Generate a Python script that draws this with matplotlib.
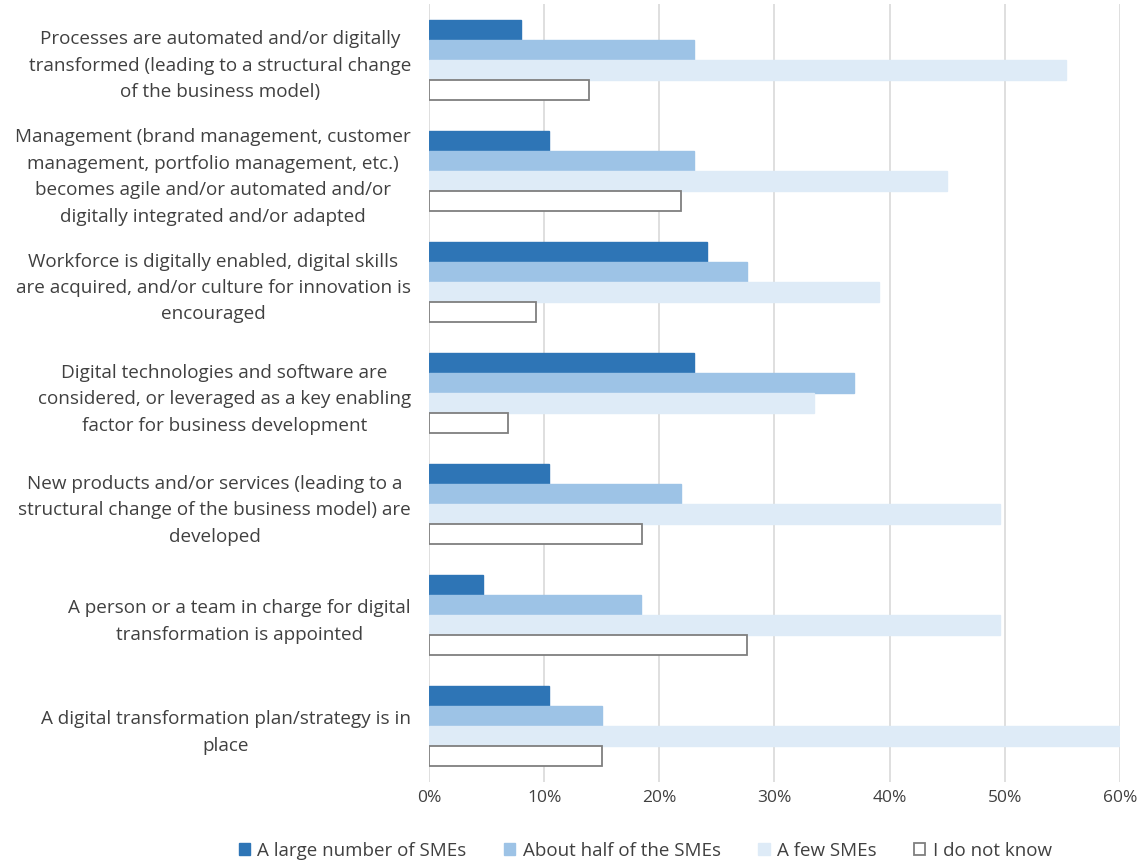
import matplotlib
matplotlib.use("Agg")
import matplotlib.pyplot as plt
import numpy as np
from matplotlib.ticker import FuncFormatter

categories = [
    "Processes are automated and/or digitally\ntransformed (leading to a structural change\nof the business model)",
    "Management (brand management, customer\nmanagement, portfolio management, etc.)\nbecomes agile and/or automated and/or\ndigitally integrated and/or adapted",
    "Workforce is digitally enabled, digital skills\nare acquired, and/or culture for innovation is\nencouraged",
    "Digital technologies and software are\nconsidered, or leveraged as a key enabling\nfactor for business development",
    "New products and/or services (leading to a\nstructural change of the business model) are\ndeveloped",
    "A person or a team in charge for digital\ntransformation is appointed",
    "A digital transformation plan/strategy is in\nplace",
]
series_names = ["A large number of SMEs", "About half of the SMEs", "A few SMEs", "I do not know"]
large = [8.0, 10.4, 24.1, 23.0, 10.4, 4.7, 10.4]
half = [23.0, 23.0, 27.6, 36.9, 21.9, 18.4, 15.0]
few = [55.3, 45.0, 39.1, 33.4, 49.6, 49.6, 60.0]
dontknow = [13.9, 21.9, 9.3, 6.9, 18.5, 27.6, 15.0]
xticks = [0, 10, 20, 30, 40, 50, 60]

plt.rcParams['font.family'] = ['Open Sans', 'DejaVu Sans']
txt = '#404040'

fig = plt.figure(figsize=(11.42, 8.64), dpi=100)
ax = fig.add_axes([429/1142, 1-782/864, (1120-429)/1142, (782-4)/864])

n = len(categories)
y = np.arange(n)
h = 0.18
styles = [
    dict(color='#2E75B6', edgecolor='#2E75B6'),
    dict(color='#9DC3E6', edgecolor='#9DC3E6'),
    dict(color='#DEEBF7', edgecolor='#DEEBF7'),
    dict(color='white', edgecolor='#7F7F7F', linewidth=1.3),
]
data = [large, half, few, dontknow]
for i, (vals, st, name) in enumerate(zip(data, styles, series_names)):
    ax.barh(y + (i - 1.5) * h, vals, height=h, label=name, zorder=3, **st)

ax.set_ylim(n - 0.5, -0.5)
ax.set_xlim(0, 60)
ax.set_xticks(xticks)
ax.xaxis.set_major_formatter(FuncFormatter(lambda v, p: f"{v:.0f}%"))
ax.grid(axis='x', color='#D9D9D9', linewidth=1.2, zorder=0)
ax.set_axisbelow(True)
for s in ax.spines.values():
    s.set_visible(False)
ax.set_yticks(y)
ax.set_yticklabels(categories, fontsize=13.6, color=txt, multialignment='center', linespacing=1.6)
ax.tick_params(axis='y', length=0, pad=13)
ax.tick_params(axis='x', length=0, pad=6, labelsize=12.5, labelcolor=txt)

leg = fig.legend(loc='center', bbox_to_anchor=(0.565, 1-851/864), ncol=4, frameon=False,
                 fontsize=13.5, handlelength=0.6, handleheight=0.6, handletextpad=0.4,
                 columnspacing=2.0, labelcolor=txt)

fig.savefig('out.png', dpi=100)
